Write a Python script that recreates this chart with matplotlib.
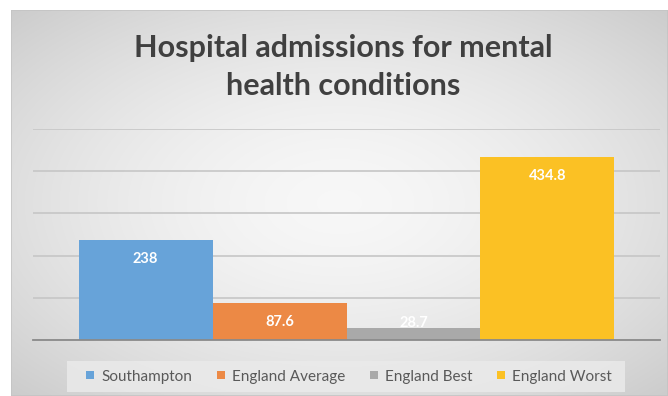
import numpy as np
import matplotlib.pyplot as plt
from matplotlib.patches import Patch, Rectangle

plt.rcParams['font.family'] = ['Lato', 'DejaVu Sans']

# data
series = ["Southampton", "England Average", "England Best", "England Worst"]
values = [238, 87.6, 28.7, 434.8]
colors = ["#67A3D9", "#EC8945", "#A9A9A9", "#FBC124"]
title_lines = ["Hospital admissions for mental", "health conditions"]

W, H = 668, 396
fig = plt.figure(figsize=(W / 100, H / 100), dpi=100)

# chart area with radial grey gradient
bg = fig.add_axes([11 / W, 0, 1 - 11 / W, 1 - 10 / H])
bg.set_axis_off()
yy, xx = np.mgrid[-1:1:200j, -1:1:340j]
r = np.sqrt(xx ** 2 + yy ** 2) / np.sqrt(2)
shade = 0.97 - 0.17 * r ** 1.6
bg.imshow(np.dstack([shade, shade, shade]), aspect="auto", extent=[0, 1, 0, 1],
          interpolation="bilinear")
bg.add_patch(Rectangle((0, 0), 1, 1, transform=bg.transAxes, fill=False,
                       edgecolor="#c4c4c4", linewidth=1.2))
bg.set_xlim(0, 1)
bg.set_ylim(0, 1)

# plot area
ax = fig.add_axes([33 / W, 1 - 340 / H, (660 - 33) / W, (340 - 129) / H])
ax.patch.set_alpha(0)
gap = 0.68
bw = 1 / (len(values) + gap)
x0 = -0.5 + gap * bw / 2 + bw / 2
for i, (name, v, c) in enumerate(zip(series, values, colors)):
    xc = x0 + i * bw
    ax.bar(xc, v, width=bw, color=c, edgecolor="none", zorder=3, label=name)
    ly = max(v - 45, 40)
    ax.text(xc, ly, f"{v:g}", color="white", fontsize=10.5, fontweight="bold",
            ha="center", va="center", zorder=4)

ax.set_xlim(-0.5, 0.5)
ax.set_ylim(0, 500)
ax.set_yticks(np.arange(0, 501, 100))
ax.set_xticks([])
ax.tick_params(left=False, labelleft=False, bottom=False)
ax.grid(axis="y", color="#c6c6c6", linewidth=1.2, zorder=0)
for s in ["left", "right", "top"]:
    ax.spines[s].set_visible(False)
ax.spines["bottom"].set_color("#8a8a8a")
ax.spines["bottom"].set_linewidth(1.3)
ax.spines["bottom"].set_zorder(5)

# two-line title, each line placed on its own baseline
for line, base in zip(title_lines, [57, 95]):
    fig.text(343 / W, 1 - base / H, line, ha="center", va="baseline",
             fontsize=22, fontweight="bold", color="#404040")

# legend: light box behind, entries without frame
bg.add_patch(Rectangle((67 / W, 1 - 392 / H), (625 - 67) / W, (392 - 361) / H,
                       transform=fig.transFigure, facecolor="#eaeaea",
                       edgecolor="none", alpha=0.85, zorder=3))
handles = [Patch(facecolor=c, edgecolor="none") for c in colors]
fig.legend(handles, series, loc="center", ncol=4,
           bbox_to_anchor=(349 / W, 1 - 376.5 / H), frameon=False,
           fontsize=11, handlelength=0.5, handleheight=0.5,
           handletextpad=0.45, columnspacing=1.65, borderpad=0.3,
           labelcolor="#595959")

fig.savefig("out.png", dpi=100)
